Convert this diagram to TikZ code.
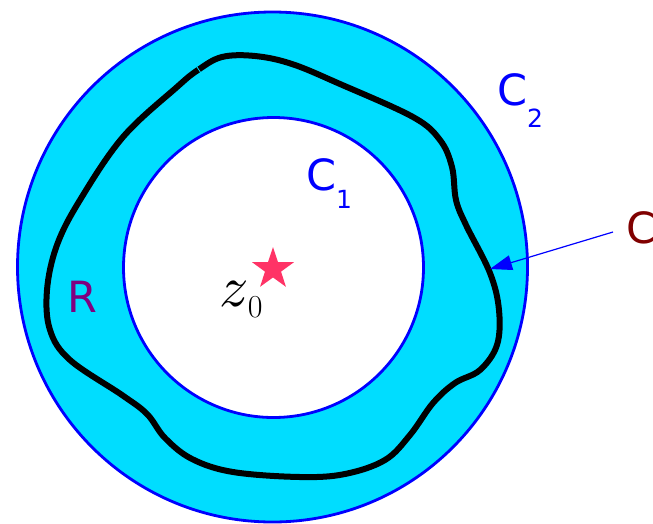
\documentclass[tikz,border=0pt]{standalone}
\usepackage{fontspec}
\usepackage{unicode-math}
\setsansfont{DejaVu Sans}
\usetikzlibrary{shapes.geometric,arrows.meta}
\definecolor{annulus}{RGB}{0,221,255}
\definecolor{ringblue}{RGB}{0,0,255}
\definecolor{maroonC}{RGB}{128,0,0}
\definecolor{purpleR}{RGB}{128,0,128}
\definecolor{starred}{RGB}{255,51,102}
\tikzset{
  ring/.style={draw=ringblue, line width=2.8pt},
  lbl/.style={font=\sffamily\fontsize{43}{43}\selectfont, inner sep=0pt, anchor=base west},
  contour/.style={draw=black, line width=6pt},
}
\begin{document}
\begin{tikzpicture}[x=1pt,y=-1pt]
\useasboundingbox (0,0) rectangle (653,523);
% annulus
\node[ring, circle, fill=annulus, minimum size=510pt, inner sep=0pt] (outer) at (272.5,267) {};
\node[ring, circle, fill=white, minimum size=300pt, inner sep=0pt] (inner) at (273.5,267.5) {};
% contour C
\draw[contour] plot[smooth cycle, tension=0.6] coordinates {
 (198,70) (222,57) (255,56) (292,64) (340,84) (413,117) (440,140) (452,167)
 (456,200) (466,225) (490,273) (499,310) (497,345) (480,370) (455,383)
 (433,403) (410,435) (385,460) (345,474) (300,477) (233,472) (192,459)
 (165,438) (147,414) (122,395) (70,360) (50,330) (47,290) (57,245) (80,200)
 (123,137) (177,87)};
\coordinate (brkA) at (196,65.5);
\coordinate (brkB) at (201,73);
\draw[annulus, line width=0.8pt] (brkA) -- (brkB);
% star
\node[star, star points=5, star point ratio=2.6, minimum size=44pt, fill=starred, inner sep=0pt] (z0star) at (273,269) {};
% labels
\node[lbl, text=ringblue] (C2) at (497,105) {C\raisebox{-22pt}{\fontsize{25}{25}\selectfont 2}};
\node[lbl, text=ringblue] (C1) at (306,190) {C\raisebox{-18pt}{\fontsize{25}{25}\selectfont 1}};
\node[lbl, text=maroonC] (Clab) at (626,243) {C};
\node[lbl, text=purpleR] (R) at (67,312) {R};
\node[inner sep=0pt, anchor=base west] (z0) at (219,306) {\fontsize{58}{58}\selectfont$z$\raisebox{-11pt}{\fontsize{32}{32}\selectfont 0}};
% arrow
\coordinate (as) at (613,232);
\coordinate (ae) at (490,269);
\draw[ringblue, line width=1.2pt, -{Triangle[length=22pt,width=15pt]}] (as) -- (ae);
\end{tikzpicture}
\end{document}
